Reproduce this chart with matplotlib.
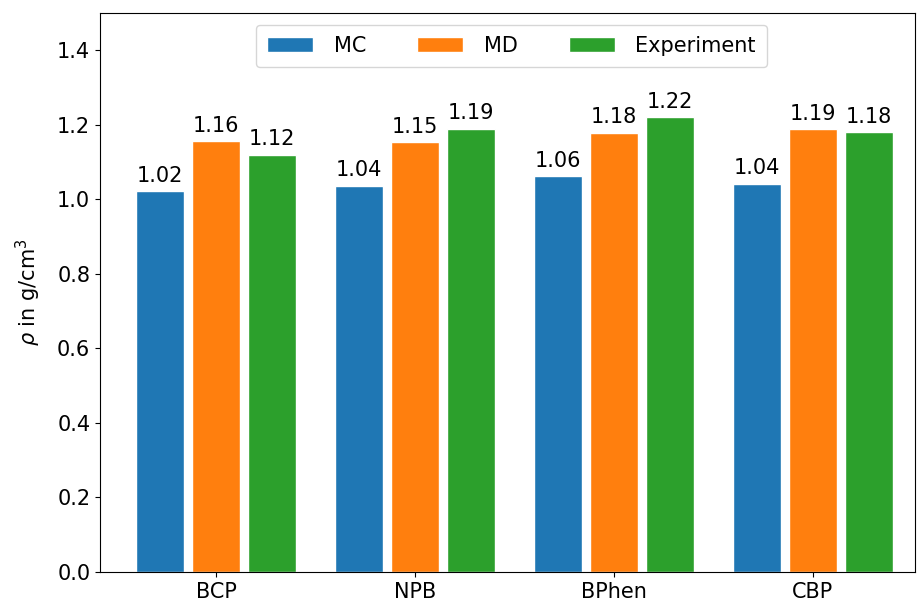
import numpy as np
import matplotlib
matplotlib.use("Agg")
import matplotlib.pyplot as plt

molecules = ["BCP", "NPB", "BPhen", "CBP"]
mc = [1.022, 1.036, 1.062, 1.041]
md = [1.156, 1.153, 1.178, 1.188]
experiment = [1.12, 1.19, 1.22, 1.18]

series = [("MC", mc, "#1f77b4"), ("MD", md, "#ff7f0e"), ("Experiment", experiment, "#2ca02c")]

plt.rcParams["font.size"] = 15

fig = plt.figure(figsize=(9.17, 6.10), dpi=100)
ax = fig.add_axes([100 / 917, 1 - 572 / 610, 815 / 917, 559 / 610])

x = np.arange(len(molecules))
pitch = 0.28
width = 0.24
for i, (name, vals, color) in enumerate(series):
    bars = ax.bar(x + (i - 1) * pitch, vals, width, label=name, color=color,
                  edgecolor="white", linewidth=1.0)
    ax.bar_label(bars, fmt="%.2f", padding=4, fontsize=15)

ax.set_xticks(x)
ax.set_xticklabels(molecules)
ax.set_xlim(-0.583, 3.513)
ax.set_ylim(0, 1.5)
ax.set_yticks(np.arange(0, 1.41, 0.2))
ax.set_ylabel(r"$\rho$ in g/cm$^3$", labelpad=10)

ax.legend(loc="upper center", ncol=3, handlelength=2.2, handletextpad=1.0,
          columnspacing=2.45, fontsize=15, bbox_to_anchor=(0.505, 0.998),
          borderpad=0.55)

fig.savefig("out.png", dpi=100)
